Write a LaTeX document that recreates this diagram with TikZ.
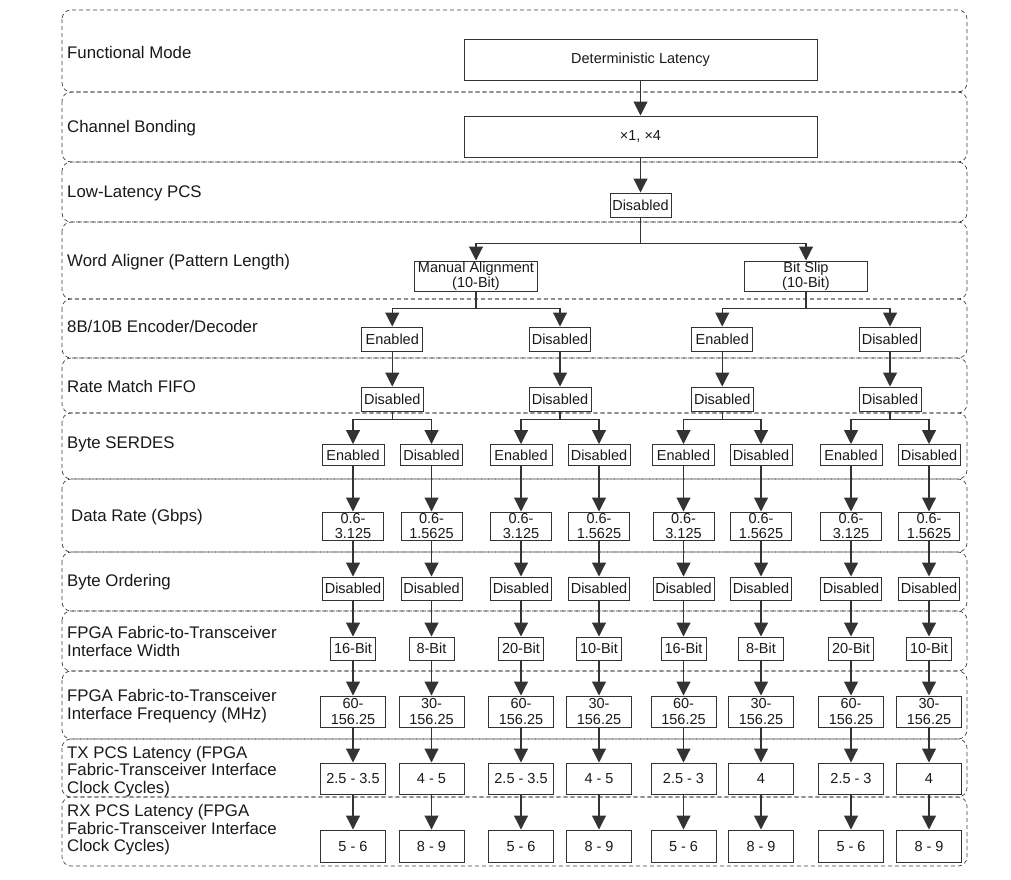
\documentclass[tikz,border=0pt]{standalone}
\usepackage{fontspec}
\setmainfont{Liberation Sans}
\usetikzlibrary{arrows.meta, calc}

\begin{document}
\begin{tikzpicture}[
    x=1pt, y=1pt,
    >={Triangle[width=14pt, length=14pt]},
    band/.style     ={draw=black!75, dash pattern=on 4pt off 3pt,
                      rounded corners=9pt, line width=0.7pt},
    rowlabel/.style ={anchor=west, align=left, inner sep=0pt, text=black!90,
                      font={\fontsize{16.8}{17.6}\selectfont}},
    opt/.style      ={draw=black!80, line width=1pt, align=center, inner sep=0pt,
                      text=black!90, font={\fontsize{14.5}{15.5}\selectfont},
                      minimum width=61pt, minimum height=24pt},
    widebox/.style  ={opt, minimum width=353pt, minimum height=41pt},
    aligner/.style  ={opt, minimum width=123pt, minimum height=30pt},
    leaf/.style     ={opt, minimum width=65pt, minimum height=31pt},
    flow/.style     ={->, line width=1.1pt, draw=black!80}
]
\useasboundingbox (0,0) rectangle (1011,-879);

% =================== Dashed row bands ===================
\foreach \top/\bot in {10/92, 92/162, 162/222, 222/299, 299/358, 358/413, 413/479,
                       479/552, 552/611, 611/671, 671/739, 739/797, 797/866}
  \draw[band] (62,-\top) rectangle (967,-\bot);

% =================== Row labels (left column) ===================
\node[rowlabel] (lmode) at (67,-52)  {Functional Mode};
\node[rowlabel] (lbond) at (67,-128) {Channel Bonding};
\node[rowlabel] (lpcs)  at (67,-193) {Low-Latency PCS};
\node[rowlabel] (lwa)   at (67,-262) {Word Aligner (Pattern Length)};
\node[rowlabel] (lenc)  at (67,-326) {8B/10B Encoder/Decoder};
\node[rowlabel] (lrm)   at (67,-386) {Rate Match FIFO};
\node[rowlabel] (lser)  at (67,-444) {Byte SERDES};
\node[rowlabel] (lrate) at (71,-517) {Data Rate (Gbps)};
\node[rowlabel] (lbo)   at (67,-582) {Byte Ordering};
\node[rowlabel] (lwid)  at (67,-641.5) {FPGA Fabric-to-Transceiver\\Interface Width};
\node[rowlabel] (lfreq) at (67,-706) {FPGA Fabric-to-Transceiver\\Interface Frequency (MHz)};
\node[rowlabel] (ltx)   at (67,-771.5) {TX PCS Latency (FPGA\\Fabric-Transceiver Interface\\Clock Cycles)};
\node[rowlabel] (lrx)   at (67,-830) {RX PCS Latency (FPGA\\Fabric-Transceiver Interface\\Clock Cycles)};

% =================== Upper tree ===================
\node[widebox] (mode)  at (640.5,-59.5) {Deterministic Latency};
\node[widebox] (bond)  at (640.5,-136.5) {×1, ×4};
\node[opt]     (llpcs) at (640.5,-205) {Disabled};

\node[aligner] (manual)  at (476,-276) {Manual Alignment\\(10-Bit)};
\node[aligner] (bitslip) at (806,-276) {Bit Slip\\(10-Bit)};

\node[opt] (enc1) at (392.25,-339) {Enabled};
\node[opt] (enc2) at (560,-339)    {Disabled};
\node[opt] (enc3) at (722.25,-339) {Enabled};
\node[opt] (enc4) at (890,-339)    {Disabled};

\node[opt, minimum width=62pt] (rm1) at (392.25,-399) {Disabled};
\node[opt, minimum width=62pt] (rm2) at (560,-399)    {Disabled};
\node[opt, minimum width=62pt] (rm3) at (722.25,-399) {Disabled};
\node[opt, minimum width=62pt] (rm4) at (890,-399)    {Disabled};

% --- Arrows ---
\draw[flow] (mode) -- (bond);
\draw[flow] (bond) -- (llpcs);

% Low-latency PCS -> both word aligner modes
\draw[flow] (llpcs.south) -- ++(0,-26) -| (manual.north);
\draw[flow] (llpcs.south) -- ++(0,-26) -| (bitslip.north);

% Word aligner -> 8B/10B
\draw[flow] (manual.south)  -- ++(0,-17) -| (enc1.north);
\draw[flow] (manual.south)  -- ++(0,-17) -| (enc2.north);
\draw[flow] (bitslip.south) -- ++(0,-17) -| (enc3.north);
\draw[flow] (bitslip.south) -- ++(0,-17) -| (enc4.north);

% 8B/10B -> rate match
\foreach \k in {1,...,4}
  \draw[flow] (enc\k) -- (rm\k);

% =================== Leaf columns (Byte SERDES down to RX latency) ===================
\foreach \i/\cx/\ser/\rate/\wid/\freq/\tx/\rx in {
    1/353/Enabled/3.125/16/60/{2.5 - 3.5}/{5 - 6},
    2/431.5/Disabled/1.5625/8/30/{4 - 5}/{8 - 9},
    3/521/Enabled/3.125/20/60/{2.5 - 3.5}/{5 - 6},
    4/599/Disabled/1.5625/10/30/{4 - 5}/{8 - 9},
    5/683.5/Enabled/3.125/16/60/{2.5 - 3}/{5 - 6},
    6/761/Disabled/1.5625/8/30/{4}/{8 - 9},
    7/851/Enabled/3.125/20/60/{2.5 - 3}/{5 - 6},
    8/929/Disabled/1.5625/10/30/{4}/{8 - 9}} {
  \pgfmathtruncatemacro\p{(\i+1)/2}
  \node[opt, minimum width=62pt, minimum height=21pt] (ser\i) at (\cx,-455) {\ser};
  \node[opt, minimum height=28pt] (rate\i) at (\cx,-526) {0.6-\\\rate};
  \node[opt, minimum height=23pt] (bo\i)   at (\cx,-588.5) {Disabled};
  \node[opt, minimum width=45pt, minimum height=23pt] (wid\i) at (\cx,-648.5) {\wid-Bit};
  \node[leaf] (freq\i) at (\cx,-711.5) {\freq-\\156.25};
  \node[leaf] (tx\i)   at (\cx,-778.5) {\tx};
  \node[leaf, minimum height=32pt] (rx\i) at (\cx,-846) {\rx};

  \draw[flow] (rm\p.south) -- ++(0,-8) -| (ser\i.north);
  \draw[flow] (ser\i) -- (rate\i);
  \draw[flow] (rate\i) -- (bo\i);
  \draw[flow] (bo\i) -- (wid\i);
  \draw[flow] (wid\i) -- (freq\i);
  \draw[flow] (freq\i) -- (tx\i);
  \draw[flow] (tx\i) -- (rx\i);
}

\end{tikzpicture}
\end{document}
